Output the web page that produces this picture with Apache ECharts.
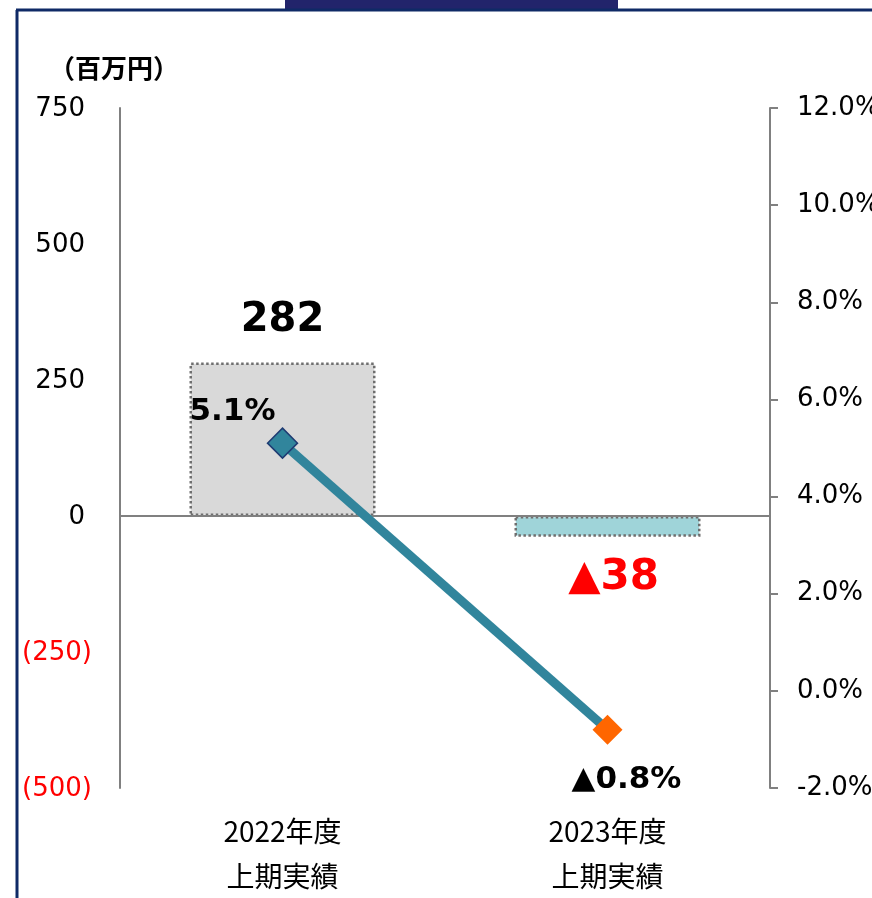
<!DOCTYPE html>
<html>
<head>
<meta charset="utf-8">
<script src="https://cdn.jsdelivr.net/npm/echarts@6/dist/echarts.min.js"></script>
<style>
  html, body { margin: 0; padding: 0; background: #fff; }
  #chart { width: 872px; height: 898px; }
</style>
</head>
<body>
<div id="chart"></div>
<script>
// データ
const categories = ['2022年度\n上期実績', '2023年度\n上期実績'];
const profit = [282, -38];        // 百万円
const ratio = [5.1, -0.8];        // %
const barColors = ['#d9d9d9', '#9fd4d9'];
const markerColors = ['#31859c', '#ff6600'];

const fontLat = 'DejaVu Sans, Noto Sans CJK JP, sans-serif';
const fontJp = 'Noto Sans CJK JP, DejaVu Sans, sans-serif';

const chart = echarts.init(document.getElementById('chart'));

const option = {
  animation: false,
  backgroundColor: '#fff',
  title: {
    text: '（百万円）',
    left: 44,
    top: 50,
    textStyle: { fontFamily: fontJp, fontSize: 26, fontWeight: 'bold', color: '#000' }
  },
  graphic: [
    { type: 'rect', shape: { x: 285, y: 0, width: 333, height: 10 }, style: { fill: '#22246b' } },
    { type: 'line', shape: { x1: 16, y1: 10, x2: 872, y2: 10 }, style: { stroke: '#0f2a66', lineWidth: 3 } },
    { type: 'line', shape: { x1: 17, y1: 10, x2: 17, y2: 898 }, style: { stroke: '#0f2a66', lineWidth: 3 } }
  ],
  grid: { left: 120, right: 102, top: 108, bottom: 110, containLabel: false, outerBoundsMode: 'none' },
  xAxis: {
    type: 'category',
    data: categories,
    axisLine: { show: false },
    axisTick: { show: false },
    axisLabel: {
      margin: 21,
      fontFamily: fontJp,
      fontSize: 28,
      lineHeight: 45,
      color: '#000'
    }
  },
  yAxis: [
    {
      type: 'value',
      min: -500,
      max: 750,
      interval: 250,
      splitLine: { show: false },
      axisTick: { show: false },
      axisLine: { show: true, lineStyle: { color: '#808080', width: 2 } },
      axisLabel: {
        margin: 28,
        fontFamily: fontLat,
        fontSize: 26,
        formatter: function (v) {
          if (v < 0) return '{r|(' + Math.abs(v) + ')}';
          return '{p|' + v + '}';
        },
        rich: {
          p: { fontFamily: fontLat, fontSize: 26, color: '#000', padding: [3, 7, 0, 0] },
          r: { fontFamily: fontLat, fontSize: 26, color: '#ff0000', padding: [3, 0, 0, 0] }
        }
      }
    },
    {
      type: 'value',
      min: -2,
      max: 12,
      interval: 2,
      position: 'right',
      splitLine: { show: false },
      axisLine: { show: true, lineStyle: { color: '#808080', width: 2 } },
      axisTick: { show: true, length: 8, lineStyle: { color: '#808080', width: 2 } },
      axisLabel: {
        margin: 27,
        fontFamily: fontLat,
        fontSize: 26,
        color: '#000',
        formatter: function (v) { return v.toFixed(1) + '%'; }
      }
    }
  ],
  series: [
    {
      type: 'bar',
      yAxisIndex: 0,
      barWidth: 186,
      data: profit.map(function (v, i) {
        return {
          value: v,
          itemStyle: {
            color: barColors[i],
            borderColor: '#6f6f6f',
            borderWidth: 2.5,
            borderType: 'dotted'
          },
          label: v < 0
            ? { position: 'bottom', distance: 20, color: '#ff0000', offset: [6, 0], fontSize: 42 }
            : { position: 'top', distance: 22, color: '#000' }
        };
      }),
      label: {
        show: true,
        fontFamily: fontLat,
        fontSize: 40,
        fontWeight: 'bold',
        formatter: function (p) {
          return p.value < 0 ? '▲' + Math.abs(p.value) : String(p.value);
        }
      },
      markLine: {
        silent: true,
        symbol: 'none',
        label: { show: false },
        lineStyle: { color: '#808080', width: 2, type: 'solid' },
        data: [{ yAxis: 0 }]
      }
    },
    {
      type: 'line',
      yAxisIndex: 1,
      z: 5,
      symbol: 'diamond',
      symbolSize: 30,
      lineStyle: { color: '#31859c', width: 9 },
      data: ratio.map(function (v, i) {
        return {
          value: v,
          itemStyle: i === 0
            ? { color: markerColors[i], borderColor: '#1f3c73', borderWidth: 1.5 }
            : { color: markerColors[i], borderWidth: 0 },
          label: i === 0
            ? { position: 'top', distance: 0, offset: [-50, 0] }
            : { position: 'bottom', distance: 20, offset: [19, 0] }
        };
      }),
      label: {
        show: true,
        fontFamily: fontLat,
        fontSize: 31,
        fontWeight: 'bold',
        color: '#000',
        formatter: function (p) {
          return p.value < 0 ? '▲' + Math.abs(p.value).toFixed(1) + '%' : p.value.toFixed(1) + '%';
        }
      }
    }
  ]
};

chart.setOption(option);
</script>
</body>
</html>
